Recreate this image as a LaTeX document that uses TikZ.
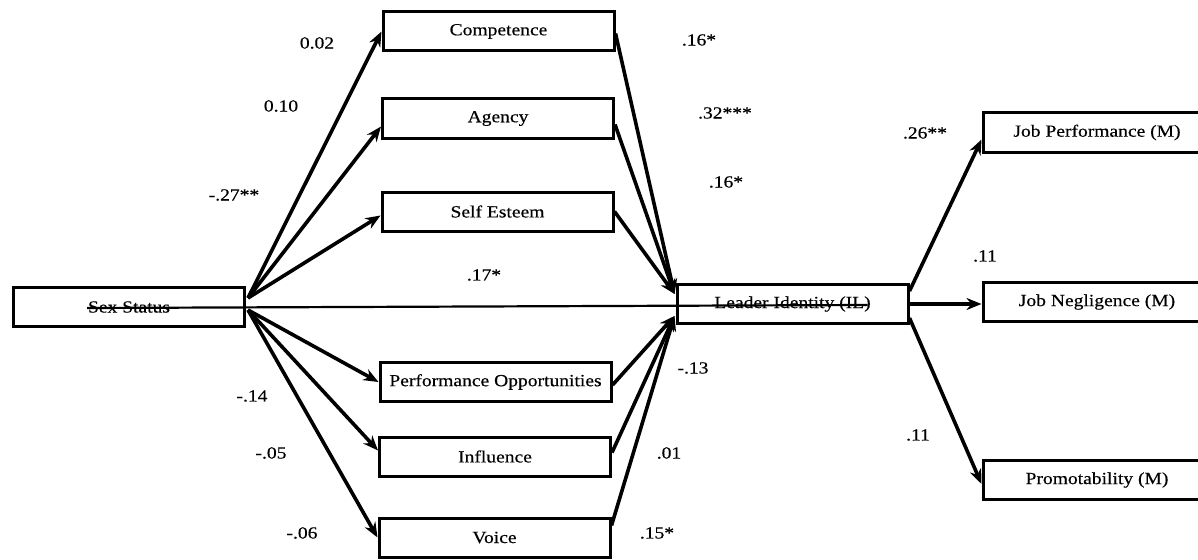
\documentclass[tikz,border=0pt]{standalone}
\usepackage{fontspec}
\setmainfont[FakeStretch=1.15,FakeBold=0.4]{Liberation Serif}
\usetikzlibrary{arrows.meta,calc}
\begin{document}
\begin{tikzpicture}[x=1pt,y=-1pt,
  box/.style={draw,line width=3pt,minimum width=231pt,minimum height=39pt,
    inner sep=0pt,font=\fontsize{17}{19}\selectfont},
  link/.style={line width=3.6pt,-{Stealth[length=15pt,width=12pt]}},
  coef/.style={font=\fontsize{17}{19}\selectfont,inner sep=0pt}]
\useasboundingbox (0,0) rectangle (1198,559);
\clip (0,0) rectangle (1198,559);

% predictor, mediators and outcomes
\node[box] (ss)   at (129,307)   {Sex Status};
\node[box] (comp) at (498.5,31.5) {Competence};
\node[box] (agen) at (498,118.5) {Agency};
\node[box] (self) at (497.5,211.5) {Self Esteem};
\node[box] (perf) at (495.5,382) {Performance Opportunities};
\node[box] (infl) at (495,456.5) {Influence};
\node[box] (voic) at (494.5,537.5) {Voice};
\node[box] (li)   at (792.5,304) {Leader Identity (IL)};
\node[box,minimum width=228pt] (jp) at (1097,132.5) {Job Performance (M)};
\node[box,minimum width=228pt] (jn) at (1097,302)   {Job Negligence (M)};
\node[box,minimum width=228pt] (pr) at (1097,480)   {Promotability (M)};

% start and end points of the fans
\coordinate (ssU) at ($(ss.east)+(2,-9)$);
\coordinate (ssL) at ($(ss.east)+(2,3)$);
\coordinate (liU) at ($(li.west)+(-1,-10)$);
\coordinate (liL) at ($(li.west)+(-1,12)$);

% Sex Status -> mediators
\draw[link] (ssU) -- (comp.west);
\draw[link] (ssU) -- ($(agen.west)+(0,8)$);
\draw[link] (ssU) -- ($(self.west)+(0,4)$);
\draw[link] (ssL) -- (perf.west);
\draw[link] (ssL) -- ($(infl.west)+(0,-6)$);
\draw[link] (ssL) -- (voic.west);

% mediators -> Leader Identity
\draw[link] ($(comp.east)+(0,2)$) -- (liU);
\draw[link] ($(agen.east)+(0,6)$) -- (liU);
\draw[link] (self.east) -- (liU);
\draw[link] ($(perf.east)+(0,3)$) -- (liL);
\draw[link] ($(infl.east)+(0,-4)$) -- (liL);
\draw[link] ($(voic.east)+(0,-12)$) -- (liL);

% direct path, drawn across both boxes
\draw[line width=2.2pt] ($(ss.center)+(-42,1)$) -- ($(li.center)+(75,1)$);

% Leader Identity -> outcomes
\draw[link] ($(li.east)+(0,-13)$) -- ($(jp.west)+(0,7)$);
\draw[link] (li.east) -- (li.east -| jn.west);
\draw[link] ($(li.east)+(0,14)$) -- ($(pr.west)+(0,4)$);

% path coefficients
\node[coef] (c1)  at (317,43)   {0.02};
\node[coef] (c2)  at (281,106)  {0.10};
\node[coef] (c3)  at (234,195)  {-.27**};
\node[coef] (c4)  at (252,396)  {-.14};
\node[coef] (c5)  at (271,453)  {-.05};
\node[coef] (c6)  at (302,533)  {-.06};
\node[coef] (c7)  at (484,275)  {.17*};
\node[coef] (c8)  at (699,40)   {.16*};
\node[coef] (c9)  at (725,113)  {.32***};
\node[coef] (c10) at (726,182)  {.16*};
\node[coef] (c11) at (693,368)  {-.13};
\node[coef] (c12) at (669,453)  {.01};
\node[coef] (c13) at (657,533)  {.15*};
\node[coef] (c14) at (925,133)  {.26**};
\node[coef] (c15) at (985,256)  {.11};
\node[coef] (c16) at (918,435)  {.11};
\end{tikzpicture}
\end{document}
